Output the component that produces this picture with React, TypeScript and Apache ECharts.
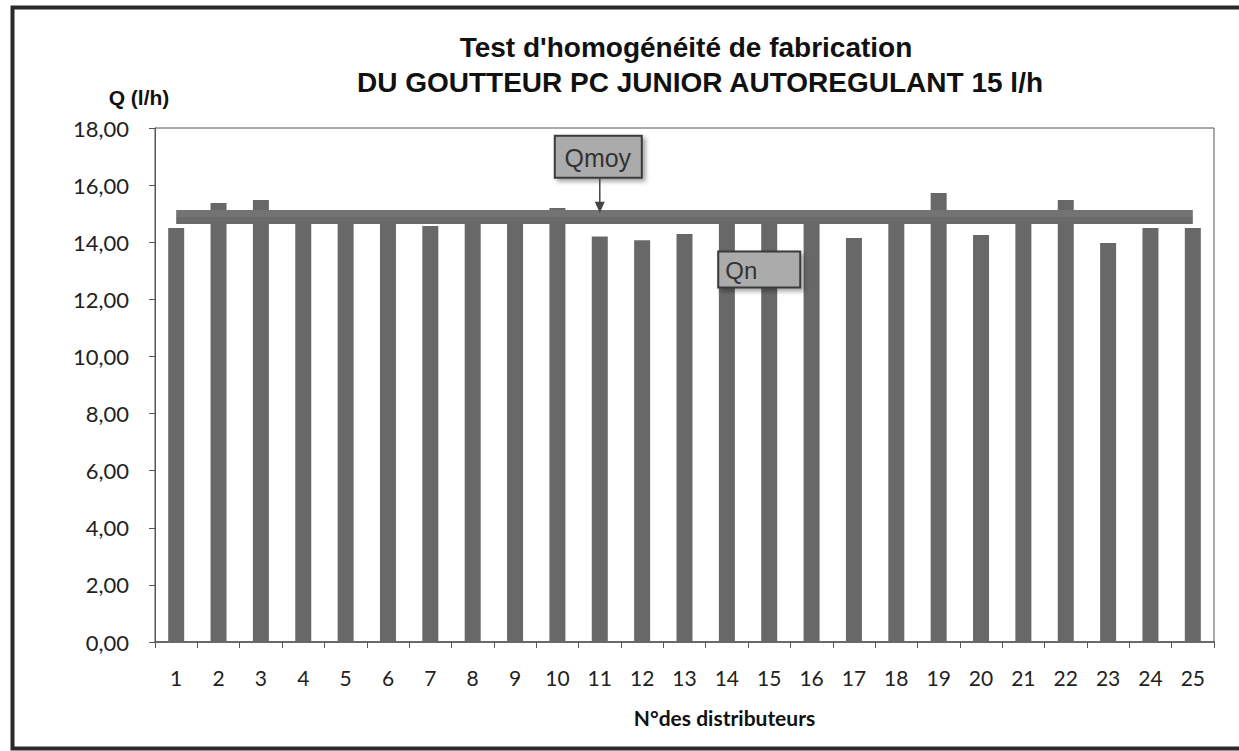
import React, { useEffect, useRef } from "react";
import * as echarts from "echarts";

const categories = ["1","2","3","4","5","6","7","8","9","10","11","12","13","14","15","16","17","18","19","20","21","22","23","24","25"];
const flowRates = [14.5, 15.37, 15.48, 14.78, 14.78, 14.67, 14.57, 15.13, 14.85, 15.2, 14.2, 14.07, 14.29, 14.85, 14.75, 15.05, 14.15, 14.78, 15.72, 14.25, 15.05, 15.48, 13.97, 14.5, 14.5];
const QN = 15.0;
const QMOY = 14.76;
const titleLines = ["Test d'homogénéité de fabrication", "DU GOUTTEUR PC JUNIOR AUTOREGULANT 15 l/h"];
const yAxisTitle = "Q (l/h)";
const xAxisTitle = "N°des distributeurs";
const qmoyLabel = "Qmoy";
const qnLabel = "Qn";
const qmoyArrowCategory = "11";
const qnBoxCategory = "15";

export default function App() {
  const ref = useRef<HTMLDivElement>(null);
  useEffect(() => {
    if (!ref.current) return;
    const chart = echarts.init(ref.current, null, { renderer: "svg" });
    const refLine = (v: number, color: string) => ({
      silent: true,
      symbol: ["none", "none"],
      label: { show: false },
      lineStyle: { color, width: 7, type: "solid" },
      data: [[{ coord: [categories[0], v] }, { coord: [categories[categories.length - 1], v] }]],
    });
    chart.setOption({
      animation: false,
      backgroundColor: "#ffffff",
      grid: { left: 155, top: 128, right: 25, bottom: 109, show: true, borderColor: "#555", borderWidth: 1 },
      xAxis: {
        type: "category",
        data: categories,
        boundaryGap: true,
        axisLine: { lineStyle: { color: "#555", width: 1.5 } },
        axisTick: { show: true, alignWithLabel: false, length: 6, lineStyle: { color: "#555" } },
        axisLabel: { fontFamily: "Lato", fontSize: 21, color: "#222", margin: 25, interval: 0 },
        name: xAxisTitle,
        nameLocation: "middle",
        nameGap: 65,
        nameTextStyle: { fontFamily: "Lato", fontWeight: "bold", fontSize: 21, color: "#111", padding: [0, 0, 0, 80] },
      },
      yAxis: {
        type: "value",
        min: 0,
        max: 18,
        interval: 2,
        splitLine: { show: false },
        axisLine: { show: true, lineStyle: { color: "#555" } },
        axisTick: { show: true, length: 6, lineStyle: { color: "#555" } },
        axisLabel: {
          fontFamily: "Lato",
          fontSize: 22,
          color: "#222",
          margin: 26,
          formatter: (v: number) => v.toFixed(2).replace(".", ","),
        },
        name: yAxisTitle,
        nameLocation: "end",
        nameGap: 20,
        nameTextStyle: { fontFamily: "Liberation Sans", fontWeight: "bold", fontSize: 21, color: "#111", align: "center", padding: [0, 32, 0, 0] },
      },
      series: [
        {
          type: "bar",
          data: flowRates,
          barWidth: 16,
          itemStyle: { color: "#686868" },
          z: 2,
        },
        {
          type: "line",
          data: [],
          markLine: refLine(QN, "#737373"),
          z: 3,
        },
        {
          type: "line",
          data: [],
          markLine: refLine(QMOY, "#6a6a6a"),
          z: 3,
        },
      ],
    });

    const pm = chart.convertToPixel({ xAxisIndex: 0, yAxisIndex: 0 }, [qmoyArrowCategory, QN]) as number[];
    const pn = chart.convertToPixel({ xAxisIndex: 0, yAxisIndex: 0 }, [qnBoxCategory, QMOY]) as number[];
    const boxStyle = {
      fill: "#ababab",
      stroke: "#3a3a3a",
      lineWidth: 2,
      shadowBlur: 4,
      shadowOffsetX: 3,
      shadowOffsetY: 3,
      shadowColor: "rgba(0,0,0,0.35)",
    };
    const qmBoxTop = pm[1] - 78;
    const qmBoxH = 42;
    chart.setOption({
      graphic: [
        { type: "rect", left: 10, top: 5, shape: { x: 0, y: 0, width: 1245, height: 741 }, style: { fill: "none", stroke: "#2a2a2a", lineWidth: 4 }, silent: true, z: 0 },
        { type: "text", x: 686, y: 47, style: { text: titleLines[0], font: "bold 28px 'Liberation Sans'", fill: "#111", textAlign: "center", textVerticalAlign: "middle" }, z: 10 },
        { type: "text", x: 700, y: 82, style: { text: titleLines[1], font: "bold 28px 'Liberation Sans'", fill: "#111", textAlign: "center", textVerticalAlign: "middle" }, z: 10 },
        { type: "rect", shape: { x: pm[0] - 45, y: qmBoxTop, width: 87, height: qmBoxH }, style: boxStyle, z: 20 },
        { type: "text", x: pm[0] - 2, y: qmBoxTop + qmBoxH / 2 + 1, style: { text: qmoyLabel, font: "25px 'Liberation Sans'", fill: "#333", textAlign: "center", textVerticalAlign: "middle" }, z: 21 },
        { type: "line", shape: { x1: pm[0], y1: qmBoxTop + qmBoxH, x2: pm[0], y2: pm[1] - 10 }, style: { stroke: "#444", lineWidth: 1.5 }, z: 20 },
        { type: "polygon", shape: { points: [[pm[0] - 5, pm[1] - 12], [pm[0] + 5, pm[1] - 12], [pm[0], pm[1] - 1]] }, style: { fill: "#444" }, z: 20 },
        { type: "rect", shape: { x: pn[0] - 51, y: pn[1] + 31, width: 82, height: 36 }, style: boxStyle, z: 20 },
        { type: "text", x: pn[0] - 44, y: pn[1] + 50, style: { text: qnLabel, font: "24px 'Liberation Sans'", fill: "#333", textAlign: "left", textVerticalAlign: "middle" }, z: 21 },
      ],
    });
    return () => chart.dispose();
  }, []);
  return <div ref={ref} style={{ position: "fixed", left: 0, top: 0, width: 1239, height: 751 }} />;
}
